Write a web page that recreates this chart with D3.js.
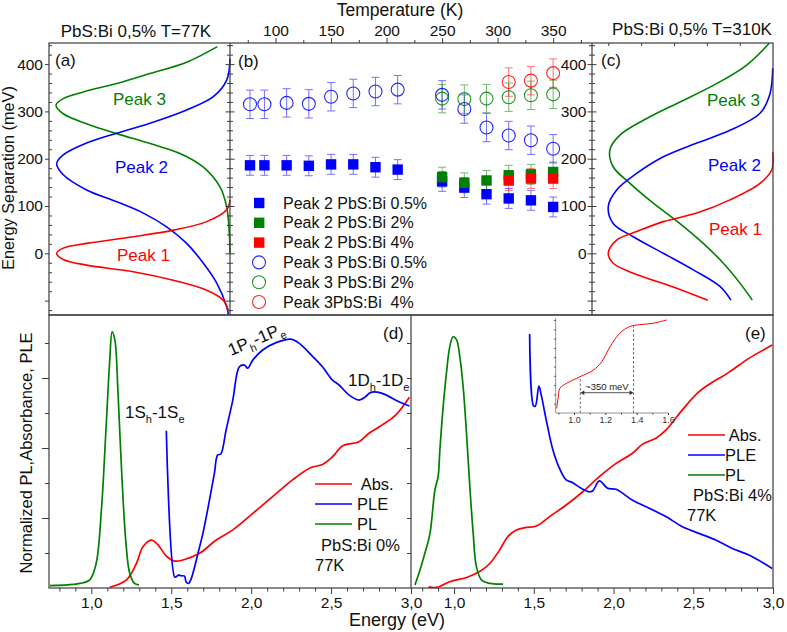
<!DOCTYPE html>
<html><head><meta charset="utf-8">
<script src="https://cdn.jsdelivr.net/npm/d3@7"></script>
<style>
body{margin:0;background:#fff;}
svg{display:block;}
</style></head><body>
<svg id="chart" width="787" height="632"></svg>
<script>
// ================= DATA =================
// tick labels
const sepTicks = [0, 100, 200, 300, 400];
const tempTicks = [100, 150, 200, 250, 300, 350];
const tempMinor = [75, 125, 175, 225, 275, 325, 375];
const energyTicks = [1.0, 1.5, 2.0, 2.5, 3.0];
const energyTickLabels = ["1,0", "1,5", "2,0", "2,5", "3,0"];
const insetTicks = [1.0, 1.2, 1.4, 1.6];

// panel (b): temperature dependence
const temps05 = [77, 90, 110, 130, 150, 170, 190, 210, 250, 270, 290, 310, 330, 350];
const peak2_05 = [186, 186, 186, 185, 188, 188, 182, 177, 152, 139, 125, 116, 112, 98];
const peak3_05 = [315, 315, 318, 316, 331, 338, 342, 346, 335, 305, 266, 249, 239, 221];
const temps2 = [250, 270, 290, 310, 330, 350];
const peak2_2 = [161, 149, 154, 165, 167, 172];
const peak3_2 = [327, 326, 327, 330, 334, 336];
const temps4 = [310, 330, 350];
const peak2_4 = [154, 158, 158];
const peak3_4 = [362, 365, 381];
const errPeak2 = 21;
const errPeak3 = 30;
const legendB = ["Peak 2 PbS:Bi 0.5%", "Peak 2 PbS:Bi 2%", "Peak 2 PbS:Bi 4%",
                 "Peak 3 PbS:Bi 0.5%", "Peak 3 PbS:Bi 2%", "Peak 3PbS:Bi  4%"];

// panel (a): T=77K peak profiles (energy in meV, normalized intensity)
const aPeak3E = [437, 404, 380, 359, 341, 327, 313, 295, 274, 253, 232, 211, 182, 140, 98, 42, 0];
const aPeak3I = [0.073, 0.249, 0.46, 0.651, 0.843, 0.958, 1.0, 0.958, 0.824, 0.651, 0.46, 0.287, 0.153, 0.057, 0.019, 0.004, 0];
const aPeak2E = [412, 366, 331, 303, 275, 254, 233, 208, 190, 166, 134, 109, 85, 56, 21, -21, -63, -113, -130];
const aPeak2I = [0, 0.019, 0.096, 0.249, 0.46, 0.651, 0.824, 0.958, 0.996, 0.958, 0.824, 0.651, 0.498, 0.364, 0.249, 0.153, 0.076, 0.019, 0.009];
const aPeak1E = [113, 92, 67, 49, 35, 21, 11, 0, -13, -25, -39, -57, -78, -99, -120];
const aPeak1I = [0, 0.019, 0.134, 0.326, 0.556, 0.824, 0.958, 0.996, 0.958, 0.824, 0.556, 0.326, 0.134, 0.039, 0.01];

// panel (c): T=310K peak profiles
const cPeak3E = [444, 398, 355, 320, 285, 250, 219, 183, 148, 106, 63, 21, -21, -63, -99];
const cPeak3I = [0.021, 0.158, 0.361, 0.564, 0.766, 0.929, 0.99, 0.97, 0.868, 0.726, 0.564, 0.422, 0.3, 0.199, 0.124];
const cPeak2E = [391, 338, 296, 260, 233, 204, 169, 134, 99, 63, 35, 0, -35, -70, -99];
const cPeak2I = [0, 0.016, 0.077, 0.26, 0.462, 0.665, 0.827, 0.949, 1.0, 0.97, 0.848, 0.665, 0.483, 0.321, 0.254];
const cPeak1E = [214, 176, 148, 113, 85, 67, 46, 28, 0, -21, -42, -71, -99];
const cPeak1I = [0, 0.006, 0.077, 0.26, 0.462, 0.665, 0.827, 0.949, 1.0, 0.97, 0.848, 0.605, 0.395];

// panel (d): PbS:Bi 0%, 77K
const dPL_E = [0.741, 0.85, 0.93, 0.99, 1.03, 1.064, 1.09, 1.115, 1.13, 1.147, 1.167, 1.188, 1.215, 1.24, 1.27, 1.298];
const dPL_I = [0.07, 0.09, 0.13, 0.23, 0.7, 2.3, 4.4, 6.5, 7.32, 7.09, 5.56, 3.47, 1.37, 0.42, 0.13, 0.09];
const dAbs_E = [1.115, 1.22, 1.282, 1.323, 1.376, 1.417, 1.469, 1.521, 1.573, 1.677, 1.781, 1.885, 2.01, 2.134, 2.259, 2.374, 2.446, 2.509, 2.571, 2.675, 2.737, 2.82, 2.904, 2.99];
const dAbs_I = [0.02, 0.23, 0.7, 1.18, 1.37, 1.23, 0.91, 0.77, 0.8, 0.99, 1.37, 1.66, 2.13, 2.61, 3.09, 3.44, 3.53, 3.75, 4.06, 4.18, 4.42, 4.66, 4.94, 5.45];
const dPLE_E = [1.469, 1.521, 1.531, 1.546, 1.562, 1.583, 1.593, 1.608, 1.625, 1.646, 1.667, 1.698, 1.739, 1.77, 1.79, 1.81, 1.843, 1.885, 1.926, 1.958, 1.978, 2.01, 2.072, 2.156, 2.249, 2.301, 2.384, 2.446, 2.509, 2.55, 2.613, 2.675, 2.717, 2.748, 2.82, 2.925, 2.99];
const dPLE_I = [4.49, 0.32, 0.32, 0.37, 0.35, 0.34, 0.17, 0.13, 0.27, 0.6, 0.99, 1.56, 2.51, 3.28, 3.8, 3.83, 4.51, 5.37, 6.32, 6.37, 6.28, 6.51, 6.8, 7.01, 7.11, 6.99, 6.62, 6.32, 5.94, 5.8, 5.51, 5.37, 5.47, 5.59, 5.56, 5.32, 5.2];

// panel (e): PbS:Bi 4%, 77K
const ePL_E = [0.755, 0.786, 0.817, 0.849, 0.88, 0.9, 0.911, 0.93, 0.952, 0.973, 0.994, 1.016, 1.036, 1.057, 1.078, 1.099, 1.12, 1.14, 1.172, 1.224, 1.307];
const ePL_I = [0.09, 0.51, 0.99, 1.56, 2.8, 3.18, 3.94, 5.09, 6.13, 6.89, 7.18, 7.09, 6.61, 5.75, 4.42, 2.89, 1.56, 0.61, 0.23, 0.13, 0.11];
const eAbs_E = [0.84, 0.891, 0.974, 1.078, 1.161, 1.224, 1.286, 1.338, 1.391, 1.453, 1.516, 1.599, 1.703, 1.807, 1.911, 2.016, 2.119, 2.182, 2.266, 2.328, 2.432, 2.536, 2.641, 2.682, 2.745, 2.849, 2.995];
const eAbs_I = [0.03, 0.02, 0.18, 0.3, 0.47, 0.7, 1.09, 1.47, 1.66, 1.73, 1.77, 2.04, 2.37, 2.75, 3.18, 3.56, 3.85, 4.11, 4.28, 4.51, 5.09, 5.61, 5.94, 6.04, 6.23, 6.56, 6.94];
const ePLE_E = [1.474, 1.499, 1.51, 1.532, 1.547, 1.578, 1.62, 1.661, 1.703, 1.744, 1.797, 1.849, 1.87, 1.911, 1.963, 2.016, 2.119, 2.224, 2.328, 2.432, 2.536, 2.641, 2.745, 2.849, 2.995];
const ePLE_I = [7.26, 5.2, 5.2, 5.77, 5.51, 4.8, 3.94, 3.42, 3.09, 3.01, 2.85, 2.75, 2.78, 3.06, 2.85, 2.82, 2.51, 2.28, 2.04, 1.75, 1.56, 1.37, 1.13, 0.94, 0.56];

// inset of (e): absorbance
const insetE = [0.889, 0.9, 0.91, 0.953, 1.038, 1.122, 1.176, 1.229, 1.292, 1.356, 1.42, 1.505, 1.59];
const insetA = [0.05, 0.175, 0.266, 0.32, 0.39, 0.46, 0.55, 0.71, 0.857, 0.93, 0.95, 0.965, 1.0];
const insetMarksE = [1.04, 1.38];
const insetMarksTop = [0.39, 0.94];

// ================= DRAWING =================
const FONT = '"Liberation Sans", Arial, Helvetica, sans-serif';
const RED = "#ff0000", BLUE = "#0000ff", GREEN = "#008000", FRAME = "#3c3c3c", TXT = "#111";
const svg = d3.select("#chart").attr("font-family", FONT);
svg.append("rect").attr("width", 787).attr("height", 632).attr("fill", "#fff");

// scales
const yTop = d3.scaleLinear().domain([-130.4, 444.6]).range([315, 43]);
const xA = d3.scaleLinear().domain([0, 1.04]).range([230, 49]);
const xB = d3.scaleLinear().domain([59, 385]).range([230, 592]);
const xC = d3.scaleLinear().domain([0, 1.091]).range([772.7, 593.3]);
const yBot = d3.scaleLinear().domain([0, 7.8]).range([588, 315]);
const xD = d3.scaleLinear().domain([0.735, 3.0]).range([49, 411]);
const xE = d3.scaleLinear().domain([0.73, 3.0]).range([411, 773]);
const xIn = d3.scaleLinear().domain([0.883, 1.6]).range([555.7, 668]);
const yIn = d3.scaleLinear().domain([0, 1]).range([413, 320]);

function styleAxis(g, fs) {
  g.attr("font-family", FONT).attr("font-size", fs || 15);
  g.select(".domain").remove();
  g.selectAll("line").attr("stroke", FRAME).attr("stroke-width", 1);
  g.selectAll("text").attr("fill", TXT);
  return g;
}
function addAxis(axis, tx, ty, fs) {
  const g = svg.append("g").attr("transform", `translate(${tx},${ty})`).call(axis);
  return styleAxis(g, fs);
}

// curves
function drawCurve(xs, ys, sx, sy, color, w, horiz) {
  const pts = d3.zip(xs, ys);
  const gen = d3.line().curve(d3.curveCatmullRom.alpha(0.5))
    .x(d => horiz ? sx(d[1]) : sx(d[0]))
    .y(d => horiz ? sy(d[0]) : sy(d[1]));
  svg.append("path").attr("d", gen(pts)).attr("fill", "none")
    .attr("stroke", color).attr("stroke-width", w || 1.6).attr("stroke-linejoin", "round");
}

// ---- panel (a) ----
drawCurve(aPeak3E, aPeak3I, xA, yTop, GREEN, 1.6, true);
drawCurve(aPeak2E, aPeak2I, xA, yTop, BLUE, 1.6, true);
drawCurve(aPeak1E, aPeak1I, xA, yTop, RED, 1.6, true);

// ---- panel (c) ----
drawCurve(cPeak3E, cPeak3I, xC, yTop, GREEN, 1.6, true);
drawCurve(cPeak2E, cPeak2I, xC, yTop, BLUE, 1.6, true);
drawCurve(cPeak1E, cPeak1I, xC, yTop, RED, 1.6, true);

// ---- panel (b) ----
const gB = svg.append("g");
function errBars(ts, vs, err, color) {
  const d = d3.zip(ts, vs);
  const g = gB.append("g").attr("stroke", color).attr("stroke-width", 1).attr("opacity", 0.55);
  g.selectAll("line.v").data(d).join("line").attr("x1", p => xB(p[0])).attr("x2", p => xB(p[0]))
    .attr("y1", p => yTop(p[1] + err)).attr("y2", p => yTop(p[1] - err));
  g.selectAll("line.t").data(d).join("line").attr("x1", p => xB(p[0]) - 4).attr("x2", p => xB(p[0]) + 4)
    .attr("y1", p => yTop(p[1] + err)).attr("y2", p => yTop(p[1] + err));
  g.selectAll("line.b").data(d).join("line").attr("x1", p => xB(p[0]) - 4).attr("x2", p => xB(p[0]) + 4)
    .attr("y1", p => yTop(p[1] - err)).attr("y2", p => yTop(p[1] - err));
}
function squares(ts, vs, color) {
  gB.append("g").selectAll("rect").data(d3.zip(ts, vs)).join("rect")
    .attr("x", p => xB(p[0]) - 5.2).attr("y", p => yTop(p[1]) - 5.2)
    .attr("width", 10.4).attr("height", 10.4).attr("fill", color);
}
function circles(ts, vs, color) {
  gB.append("g").selectAll("circle").data(d3.zip(ts, vs)).join("circle")
    .attr("cx", p => xB(p[0])).attr("cy", p => yTop(p[1])).attr("r", 6.5)
    .attr("fill", "none").attr("stroke", color).attr("stroke-width", 1.1).attr("opacity", 0.85);
}
errBars(temps05, peak2_05, errPeak2, BLUE);
errBars(temps2, peak2_2, errPeak2, GREEN);
errBars(temps4, peak2_4, errPeak2, RED);
errBars(temps05, peak3_05, errPeak3, BLUE);
errBars(temps2, peak3_2, errPeak3, GREEN);
errBars(temps4, peak3_4, errPeak3, RED);
squares(temps05, peak2_05, BLUE);
squares(temps2, peak2_2, GREEN);
squares(temps4, peak2_4, RED);
circles(temps05, peak3_05, BLUE);
circles(temps2, peak3_2, GREEN);
circles(temps4, peak3_4, RED);

// legend (b)
const legColors = [BLUE, GREEN, RED, BLUE, GREEN, RED];
const legG = svg.append("g");
legendB.forEach((t, i) => {
  const y = 203 + i * 19.8;
  if (i < 3) legG.append("rect").attr("x", 254).attr("y", y - 5.2).attr("width", 10.4).attr("height", 10.4).attr("fill", legColors[i]);
  else legG.append("circle").attr("cx", 259).attr("cy", y).attr("r", 6.5).attr("fill", "none")
    .attr("stroke", legColors[i]).attr("stroke-width", 1.1).attr("opacity", 0.85);
  legG.append("text").attr("x", 283).attr("y", y + 5.6).attr("font-size", 16).attr("fill", TXT)
    .style("white-space", "pre").text(t);
});

// ---- panel (d) ----
function drawLine(xs, ys, sx, color) {
  const gen = d3.line().x((d) => sx(d[0])).y(d => yBot(d[1])).curve(d3.curveCatmullRom.alpha(0.5));
  svg.append("path").attr("d", gen(d3.zip(xs, ys))).attr("fill", "none")
    .attr("stroke", color).attr("stroke-width", 1.7).attr("stroke-linejoin", "round");
}
drawLine(dAbs_E, dAbs_I, xD, RED);
drawLine(dPL_E, dPL_I, xD, GREEN);
drawLine(dPLE_E, dPLE_I, xD, BLUE);

// ---- panel (e) ----
drawLine(eAbs_E, eAbs_I, xE, RED);
drawLine(ePL_E, ePL_I, xE, GREEN);
drawLine(ePLE_E, ePLE_I, xE, BLUE);

// inset
const inG = svg.append("g");
inG.append("path").attr("d", d3.line().x(d => xIn(d[0])).y(d => yIn(d[1])).curve(d3.curveCatmullRom)(d3.zip(insetE, insetA)))
  .attr("fill", "none").attr("stroke", RED).attr("stroke-width", 1);
insetMarksE.forEach((e, i) => {
  inG.append("line").attr("x1", xIn(e)).attr("x2", xIn(e)).attr("y1", yIn(0)).attr("y2", yIn(insetMarksTop[i]))
    .attr("stroke", "#444").attr("stroke-width", 0.8).attr("stroke-dasharray", "2.5,2");
});
const arY = 392.7;
inG.append("line").attr("x1", xIn(insetMarksE[0]) + 2).attr("x2", xIn(insetMarksE[1]) - 2)
  .attr("y1", arY).attr("y2", arY).attr("stroke", "#444").attr("stroke-width", 0.9);
[[xIn(insetMarksE[0]), 1], [xIn(insetMarksE[1]), -1]].forEach(([x, s]) => {
  inG.append("path").attr("d", `M${x},${arY} l${4 * s},-2.3 l0,4.6 Z`).attr("fill", "#333");
});
inG.append("text").attr("x", (xIn(insetMarksE[0]) + xIn(insetMarksE[1])) / 2).attr("y", arY - 3)
  .attr("text-anchor", "middle").attr("font-size", 9.5).attr("fill", "#222").text("~350 meV");
const inAxB = addAxis(d3.axisBottom(xIn).tickValues(insetTicks).tickSize(2).tickPadding(2).tickFormat(d3.format(".1f")), 0, 413, 9);
inAxB.selectAll("text").attr("fill", "#333");
addAxis(d3.axisBottom(xIn).tickValues([0.9, 1.1, 1.3, 1.5]).tickSize(1.5).tickFormat(""), 0, 413);
addAxis(d3.axisLeft(yIn).tickValues(d3.range(0.1, 1.01, 0.1)).tickSize(1.5).tickFormat(""), 555.7, 0);
inG.append("path").attr("d", `M555.7,318 V413 H668.5`).attr("fill", "none").attr("stroke", "#777").attr("stroke-width", 0.8);

// ================= FRAMES =================
const fr = svg.append("g").attr("fill", "none").attr("stroke", FRAME).attr("stroke-width", 1.2);
fr.append("rect").attr("x", 49).attr("y", 43).attr("width", 724).attr("height", 272);
fr.append("rect").attr("x", 49).attr("y", 315).attr("width", 724).attr("height", 273);
fr.append("line").attr("x1", 230).attr("x2", 230).attr("y1", 43).attr("y2", 315);
fr.append("line").attr("x1", 592).attr("x2", 592).attr("y1", 43).attr("y2", 315);
fr.append("line").attr("x1", 411).attr("x2", 411).attr("y1", 315).attr("y2", 588);

// ================= AXES =================
const sepMajorAll = [-100, 0, 100, 200, 300, 400];
const sepMinor = d3.range(-120, 441, 20).filter(v => v % 100 !== 0);
// (a) left axis
addAxis(d3.axisLeft(yTop).tickValues(sepTicks).tickSize(4).tickPadding(2), 49, 0, 15.5);
addAxis(d3.axisLeft(yTop).tickValues([-100]).tickSize(4).tickFormat(""), 49, 0);
addAxis(d3.axisRight(yTop).tickValues(sepMinor).tickSize(3).tickFormat(""), 49, 0);
// (a)/(b) boundary: crossing ticks
addAxis(d3.axisRight(yTop).tickValues(sepMajorAll).tickSize(9).tickFormat(""), 225.5, 0);
addAxis(d3.axisRight(yTop).tickValues(sepMinor).tickSize(6).tickFormat(""), 227, 0);
// (b)/(c) boundary: crossing ticks + labels inside (b)
addAxis(d3.axisRight(yTop).tickValues(sepMajorAll).tickSize(9).tickFormat(""), 587.5, 0);
addAxis(d3.axisRight(yTop).tickValues(sepMinor).tickSize(6).tickFormat(""), 589, 0);
addAxis(d3.axisLeft(yTop).tickValues(sepTicks).tickSize(0).tickPadding(5.5), 592, 0, 15.5);
// (b) top temperature axis
addAxis(d3.axisTop(xB).tickValues(tempTicks).tickSize(5).tickPadding(2), 0, 43, 15.5);
addAxis(d3.axisTop(xB).tickValues(tempMinor).tickSize(3).tickFormat(""), 0, 43);
// (c) top small ticks
addAxis(d3.axisBottom(xC).tickValues([0.2, 0.4, 0.6, 0.8, 1.0]).tickSize(3).tickFormat(""), 0, 43);

// (d) bottom
const eMinor = d3.range(0.8, 2.95, 0.1).map(v => +v.toFixed(2)).filter(v => Math.abs(v * 2 - Math.round(v * 2)) > 1e-6);
addAxis(d3.axisBottom(xD).tickValues(energyTicks).tickSize(6).tickPadding(3).tickFormat((d, i) => energyTickLabels[i]), 0, 588, 15.5);
addAxis(d3.axisBottom(xD).tickValues(eMinor).tickSize(3.5).tickFormat(""), 0, 588);
// (e) bottom
addAxis(d3.axisBottom(xE).tickValues(energyTicks).tickSize(6).tickPadding(3).tickFormat((d, i) => energyTickLabels[i]), 0, 588, 15.5);
addAxis(d3.axisBottom(xE).tickValues(eMinor).tickSize(3.5).tickFormat(""), 0, 588);
// (d) left
addAxis(d3.axisLeft(yBot).tickValues([2, 4, 6]).tickSize(7).tickFormat(""), 49, 0);
addAxis(d3.axisLeft(yBot).tickValues([1, 3, 5, 7]).tickSize(4).tickFormat(""), 49, 0);
// (d)/(e) boundary
addAxis(d3.axisLeft(yBot).tickValues([1, 2, 3, 4, 5, 6, 7]).tickSize(4).tickFormat(""), 411, 0);

// ================= TEXT =================
function txt(x, y, s, opts) {
  const o = Object.assign({ size: 16, fill: TXT, anchor: "start" }, opts || {});
  return svg.append("text").attr("x", x).attr("y", y).attr("font-size", o.size)
    .attr("fill", o.fill).attr("text-anchor", o.anchor).style("white-space", "pre").text(s);
}
txt(400, 16, "Temperature (K)", { size: 17.5, anchor: "middle" });
txt(136, 37, "PbS:Bi 0,5% T=77K", { size: 17, anchor: "middle" });
txt(692, 35, "PbS:Bi 0,5% T=310K", { size: 17, anchor: "middle" });
svg.append("text").attr("transform", "translate(14,178) rotate(-90)").attr("text-anchor", "middle")
  .attr("font-size", 16.3).attr("fill", TXT).text("Energy Separation (meV)");
svg.append("text").attr("transform", "translate(32,453) rotate(-90)").attr("text-anchor", "middle")
  .attr("font-size", 16.5).attr("fill", TXT).text("Normalized PL,Absorbance, PLE");
txt(397, 626, "Energy (eV)", { size: 18, anchor: "middle" });

txt(55, 66, "(a)", { size: 17 });
txt(238, 67, "(b)", { size: 17 });
txt(601, 66, "(c)", { size: 17 });
txt(383, 339, "(d)", { size: 17 });
txt(745, 339, "(e)", { size: 17 });

txt(113, 105, "Peak 3", { size: 17, fill: GREEN });
txt(115, 173, "Peak 2", { size: 17, fill: BLUE });
txt(117, 261, "Peak 1", { size: 17, fill: RED });
txt(707, 106, "Peak 3", { size: 17, fill: GREEN });
txt(708, 171, "Peak 2", { size: 17, fill: BLUE });
txt(709, 235, "Peak 1", { size: 17, fill: RED });

// transition labels with subscripts
function trans(x, y, L, rot) {
  const t = svg.append("text").attr("font-size", 17).attr("fill", TXT)
    .attr("transform", `translate(${x},${y}) rotate(${rot || 0})`);
  t.append("tspan").text("1" + L);
  t.append("tspan").attr("font-size", 11).attr("dy", 5).text("h");
  t.append("tspan").attr("dy", -5).text("-1" + L);
  t.append("tspan").attr("font-size", 11).attr("dy", 5).text("e");
}
trans(125, 418, "S", 0);
trans(231, 356, "P", -23);
trans(348, 386, "D", 0);

// legends (d) and (e)
function legend(x0, y0, step, nameX) {
  const items = [["Abs.", RED, " "], ["PLE", BLUE, ""], ["PL", GREEN, ""]];
  items.forEach((it, i) => {
    const y = y0 + i * step;
    svg.append("line").attr("x1", x0).attr("x2", x0 + 37).attr("y1", y).attr("y2", y)
      .attr("stroke", it[1]).attr("stroke-width", 1.7);
    txt(nameX, y + 6, it[2] + it[0], { size: 16.5 });
  });
}
legend(315, 484, 20, 357);
txt(321, 551, "PbS:Bi 0%", { size: 16.5 });
txt(315, 571, "77K", { size: 16.5 });
legend(688, 435, 20, 725);
txt(693, 501, "PbS:Bi 4%", { size: 16.5 });
txt(687, 521, "77K", { size: 16.5 });
</script>
</body></html>
